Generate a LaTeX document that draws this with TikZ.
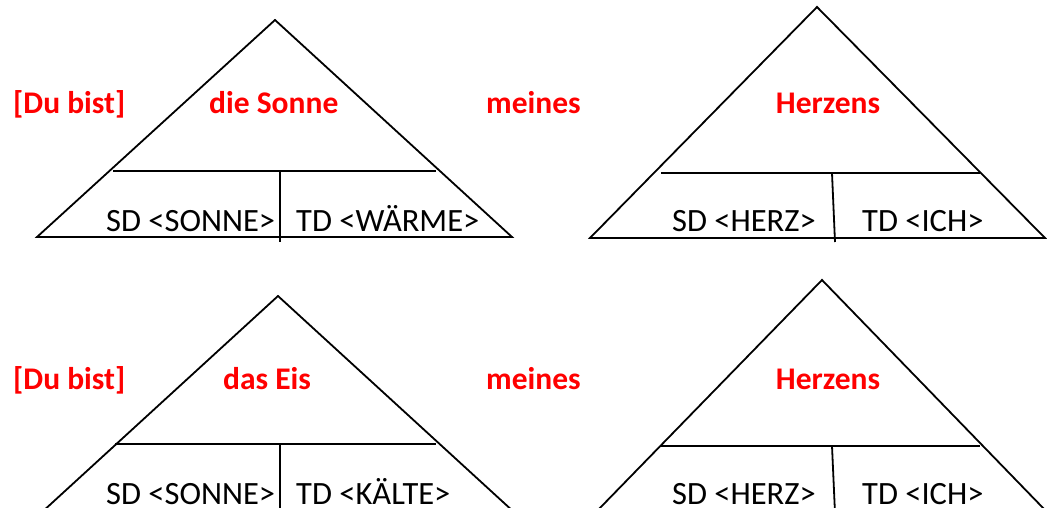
\documentclass[tikz,border=0pt]{standalone}
\usepackage{fontspec}
\setmainfont{Carlito}
\begin{document}
\begin{tikzpicture}[x=1pt,y=-1pt,
  edge/.style={line width=1.8pt,line join=miter},
  role/.style={anchor=base west,inner sep=0pt,font=\fontsize{32.5}{36}\selectfont},
  word/.style={anchor=base west,inner sep=0pt,text=red,font=\fontsize{31.5}{36}\selectfont\bfseries},
  wordc/.style={word,anchor=base}]
\useasboundingbox (0,0) rectangle (1047,508);
\clip (0,0) rectangle (1047,508);

% upper left triangle
\draw[edge] (275,20) -- (37,237) -- (512,237) -- cycle;
\draw[edge] (113,171) -- (436,171);
\draw[edge] (280,171) -- (280,242);
% upper right triangle
\draw[edge] (817,7) -- (590,238) -- (1045,238) -- cycle;
\draw[edge] (661,173) -- (980,173);
\draw[edge] (832,173) -- (835,242);
% lower left triangle
\draw[edge] (278,296) -- (41,513) -- (515,513) -- cycle;
\draw[edge] (115,444) -- (436,444);
\draw[edge] (280,444) -- (280,513);
% lower right triangle
\draw[edge] (822,280) -- (597,511) -- (1046,511) -- cycle;
\draw[edge] (660,446) -- (980,446);
\draw[edge] (832,446) -- (835,513);

% red phrase, upper row
\node[word] (du1) at (13,114) {[Du bist]};
\node[word] (sonne) at (209,114) {die Sonne};
\node[word] (meines1) at (486,114) {meines};
\node[wordc] (herz1) at (828,114) {Herzens};
% red phrase, lower row
\node[word] (du2) at (13,389) {[Du bist]};
\node[word] (eis) at (223,389) {das Eis};
\node[word] (meines2) at (486,389) {meines};
\node[wordc] (herz2) at (828,389) {Herzens};

% role labels
\node[role] (sd1) at (106,231) {SD <SONNE>};
\node[role] (td1) at (296,231) {TD <WÄRME>};
\node[role] (sd2) at (672,231) {SD <HERZ>};
\node[role] (td2) at (862,231) {TD <ICH>};
\node[role] (sd3) at (106,504) {SD <SONNE>};
\node[role] (td3) at (296,504) {TD <KÄLTE>};
\node[role] (sd4) at (672,504) {SD <HERZ>};
\node[role] (td4) at (862,504) {TD <ICH>};
\end{tikzpicture}
\end{document}
